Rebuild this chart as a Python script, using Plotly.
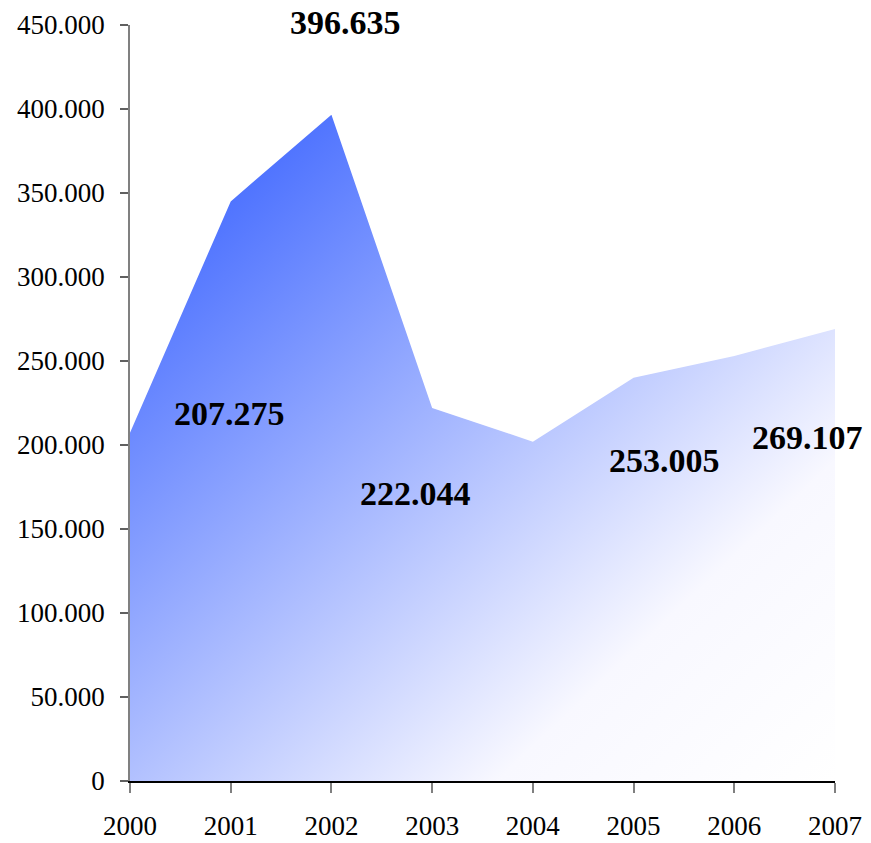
import base64
import plotly.graph_objects as go

# Data
years = [2000, 2001, 2002, 2003, 2004, 2005, 2006, 2007]
values = [207275, 345000, 396635, 222044, 202000, 240000, 253005, 269107]
label_years = [2000, 2002, 2003, 2006, 2007]
label_values = [207275, 396635, 222044, 253005, 269107]
label_texts = ["207.275", "396.635", "222.044", "253.005", "269.107"]
y_ticks = [0, 50000, 100000, 150000, 200000, 250000, 300000, 350000, 400000, 450000]

# Label offsets (pixels) - styling
label_dx = [99, 14, -17, -70, -28]
label_dy = [19, 92, -86, -105, -109]

FONT = "Liberation Serif, Times New Roman, serif"

svg = (
    '<svg xmlns="http://www.w3.org/2000/svg" width="700" height="660" '
    'viewBox="0 0 700 660" preserveAspectRatio="none">'
    '<defs><linearGradient id="g" x1="0" y1="0" x2="1" y2="1">'
    '<stop offset="0" stop-color="rgb(43,87,255)"/>'
    '<stop offset="0.76" stop-color="rgb(248,248,255)"/>'
    '<stop offset="1" stop-color="#ffffff"/>'
    '</linearGradient></defs>'
    '<rect width="700" height="660" fill="url(#g)"/></svg>'
)
src = "data:image/svg+xml;base64," + base64.b64encode(svg.encode()).decode()

ymax_axis = y_ticks[-1]

fig = go.Figure()

# White mask above the curve so the gradient shows only under the area
fig.add_trace(go.Scatter(
    x=years + years[::-1],
    y=values + [ymax_axis] * len(years),
    fill="toself",
    fillcolor="white",
    line=dict(width=0, color="white"),
    mode="lines",
    hoverinfo="skip",
    showlegend=False,
))

fig.add_trace(go.Scatter(
    x=years, y=values, mode="lines",
    line=dict(width=0, color="rgba(0,0,0,0)"),
    showlegend=False,
))

fig.add_layout_image(dict(
    source=src, xref="x", yref="y",
    x=years[0], y=max(values),
    sizex=years[-1] - years[0], sizey=max(values),
    sizing="stretch", xanchor="left", yanchor="top",
    layer="below",
))

for yr, v, t, dx, dy in zip(label_years, label_values, label_texts, label_dx, label_dy):
    fig.add_annotation(
        x=yr, y=v, text=f"<b>{t}</b>", showarrow=False,
        xshift=dx, yshift=dy,
        font=dict(family=FONT, size=34, color="black"),
        xanchor="center", yanchor="middle",
    )

fig.update_layout(
    width=871, height=843, autosize=False,
    margin=dict(l=130, r=36, t=25, b=62),
    paper_bgcolor="white", plot_bgcolor="white",
    separators=",.",
    showlegend=False,
    xaxis=dict(
        range=[years[0], years[-1]],
        tickvals=years, ticktext=[str(y) for y in years],
        showgrid=False, zeroline=False, automargin=False,
        showline=True, linecolor="black", linewidth=1.5,
        ticks="outside", ticklen=10, tickcolor="#808080", tickwidth=1.5,
        tickfont=dict(family=FONT, size=27, color="black"),
        ticklabelstandoff=10,
    ),
    yaxis=dict(
        range=[0, ymax_axis],
        tickvals=y_ticks, tickformat=",d",
        showgrid=False, zeroline=False, automargin=False,
        showline=True, linecolor="#808080", linewidth=1.5,
        ticks="outside", ticklen=8, tickcolor="#606060", tickwidth=1.5,
        tickfont=dict(family=FONT, size=27, color="black"),
        ticklabelstandoff=10,
    ),
)

fig.write_html(
    "out.html",
    config={"displayModeBar": False},
    post_script="document.body.style.margin='0';document.body.style.overflow='hidden';",
)
